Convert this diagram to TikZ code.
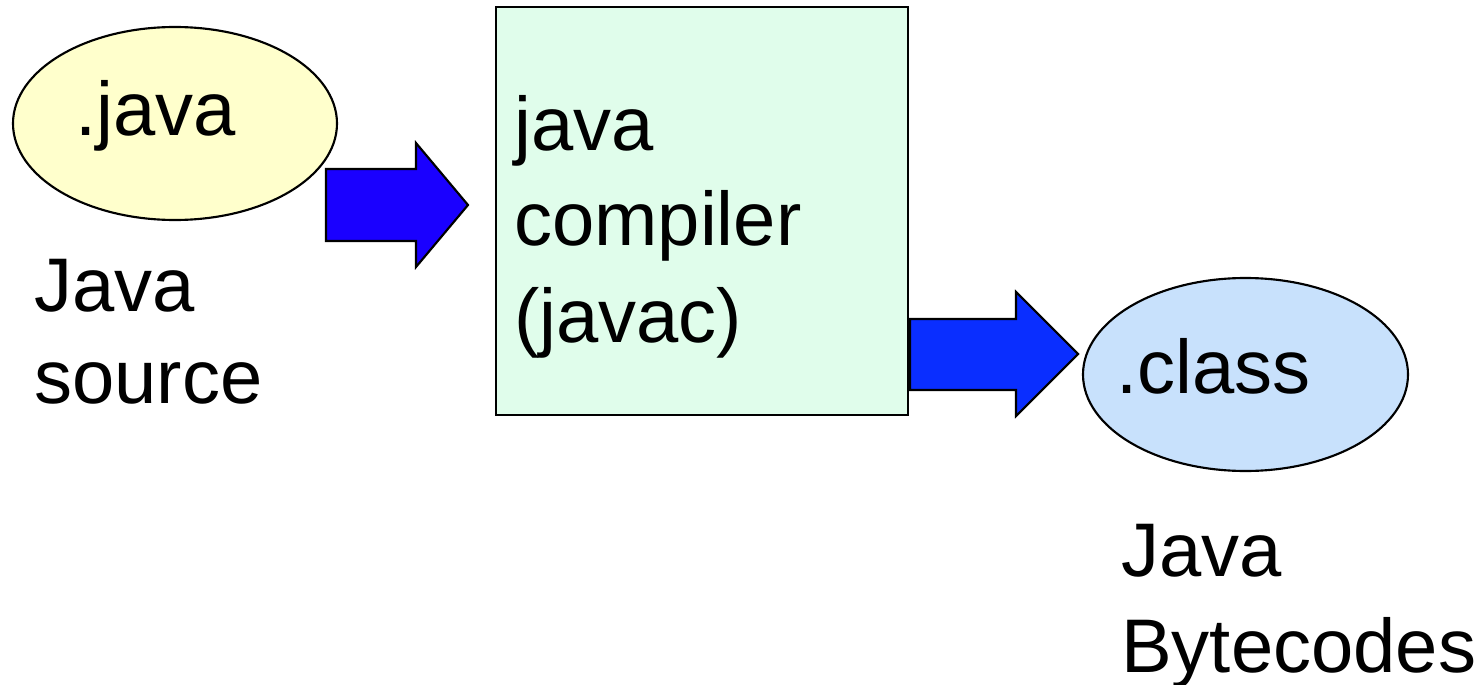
\documentclass[tikz,border=0pt]{standalone}
\usepackage{fontspec}
\setmainfont{Liberation Sans}
\definecolor{srcfill}{HTML}{FFFFCC}
\definecolor{boxfill}{HTML}{E0FDEB}
\definecolor{clsfill}{HTML}{C8E1FC}
\definecolor{arrowA}{HTML}{1A00FF}
\definecolor{arrowB}{HTML}{0A2EFF}
\tikzset{
  outline/.style={draw=black, line width=1.6pt},
  bigtext/.style={inner sep=0pt, anchor=base west, align=left, font=\fontsize{57}{72}\selectfont},
}
\begin{document}
\begin{tikzpicture}[x=0.75pt, y=-0.75pt]
\useasboundingbox (0,0) rectangle (1478,685);
% source ellipse
\draw[outline, fill=srcfill] (175,123.5) ellipse [x radius=162, y radius=96.5];
\node[bigtext] (java) at (75,135) {.java};
\node[bigtext, font=\fontsize{57}{69}\selectfont] (src1) at (34,311) {Java};
\node[bigtext] (src2) at (34,403) {source};
% compiler box
\draw[outline, fill=boxfill] (496,7) rectangle (908,415);
\node[bigtext] (c1) at (514,150) {java};
\node[bigtext] (c2) at (514,245) {compiler};
\node[bigtext] (c3) at (514,342) {(javac)};
% class ellipse
\draw[outline, fill=clsfill] (1245.5,374.5) ellipse [x radius=162.5, y radius=96.5];
\node[bigtext] (cls) at (1116,393) {.class};
\node[bigtext] (b1) at (1121,576) {Java};
\node[bigtext] (b2) at (1121,672) {Bytecodes};
% block arrows
\draw[outline, fill=arrowA, line join=miter]
  (326,169) -- (416,169) -- (416,143) -- (468,205) -- (416,267) -- (416,241) -- (326,241) -- cycle;
\draw[outline, fill=arrowB, line join=miter]
  (910,319) -- (1016,319) -- (1016,292) -- (1078,354) -- (1016,416) -- (1016,390) -- (910,390) -- cycle;
\end{tikzpicture}
\end{document}
